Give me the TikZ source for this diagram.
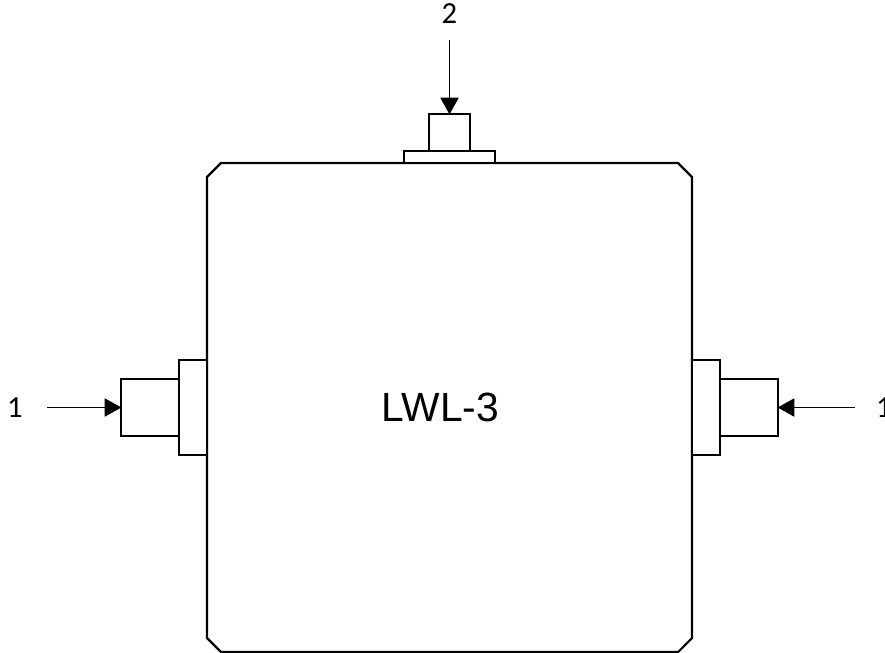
\documentclass[tikz,border=0pt]{standalone}
\usepackage{fontspec}
\setmainfont{Liberation Sans}
\newfontfamily\labelfont{Carlito}
\usetikzlibrary{arrows.meta}
\tikzset{
  px/.style={x=0.75pt,y=-0.75pt},
  part/.style={draw=black,fill=white,line width=1.6pt,outer sep=0pt,inner sep=0pt,rectangle},
  bodyline/.style={draw=black,fill=white,line width=1.6pt,line join=miter},
  feed/.style={line width=1.4pt,-{Triangle[length=12.5pt,width=13.5pt]},shorten >=-0.3pt},
  portlabel/.style={font=\labelfont\fontsize{23}{27}\selectfont,inner sep=0pt},
  titlelabel/.style={font=\fontsize{30.6}{36}\selectfont,inner sep=0pt}
}
\begin{document}
\begin{tikzpicture}[px]
\useasboundingbox (0,0) rectangle (885,653);
% body
\draw[bodyline] (221,163) -- (678,163) -- (692,177) -- (692,638) -- (678,652)
  -- (221,652) -- (207,638) -- (207,177) -- cycle;
\node[titlelabel] (title) at (440.5,407.5) {LWL-3};
% top connector
\node[part,minimum width=68.25pt,minimum height=9pt] (topflange) at (449.5,157) {};
\node[part,minimum width=30.75pt,minimum height=27.75pt] (topbox) at (449.5,132.5) {};
% left connector
\node[part,minimum width=21pt,minimum height=71.25pt] (leftflange) at (193,407.5) {};
\node[part,minimum width=43.5pt,minimum height=42.75pt] (leftbox) at (150,407.5) {};
% right connector
\node[part,minimum width=21pt,minimum height=71.25pt] (rightflange) at (706,407.5) {};
\node[part,minimum width=43.5pt,minimum height=42.75pt] (rightbox) at (749,407.5) {};
% labels and arrows
\node[portlabel] (ltop) at (449.5,14) {2};
\node[portlabel] (lleft) at (15,408) {1};
\node[portlabel] (lright) at (884,408) {1};
\coordinate (atop) at (449.5,40);
\coordinate (aleft) at (47,407.5);
\coordinate (aright) at (855,407.5);
\draw[feed] (atop) -- (topbox.north);
\draw[feed] (aleft) -- (leftbox.west);
\draw[feed] (aright) -- (rightbox.east);
\end{tikzpicture}
\end{document}
